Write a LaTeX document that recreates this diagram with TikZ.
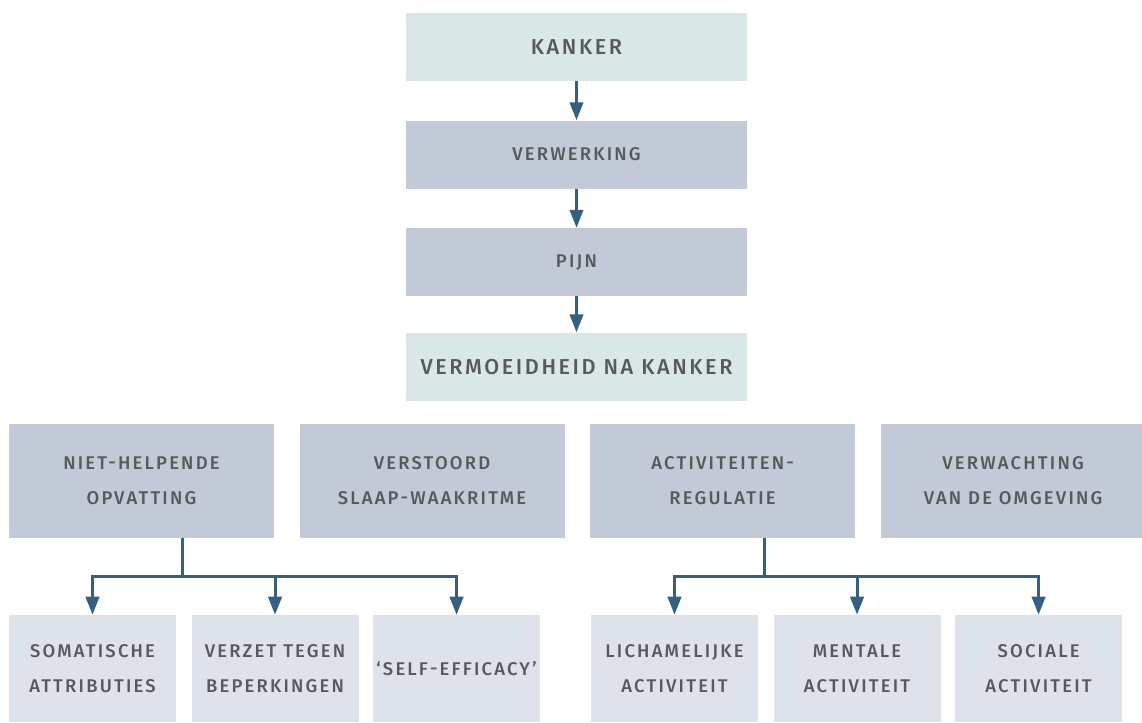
\documentclass[tikz,border=0pt]{standalone}
\usepackage{fontspec}
\setmainfont{Fira Sans Medium}[LetterSpace=12, RawFeature=+case]
\usetikzlibrary{arrows.meta,positioning}
\definecolor{mint}{HTML}{D9E8E7}
\definecolor{slate}{HTML}{C2C9D7}
\definecolor{mist}{HTML}{DEE2EA}
\definecolor{navy}{HTML}{36607F}
\definecolor{ink}{HTML}{58595B}

\begin{document}
\begin{tikzpicture}[
  x=0.75pt, y=-0.75pt,
  font=\fontsize{13.8}{26.25}\selectfont, text=ink,
  base/.style={inner sep=0pt, align=center},
  topbox/.style={base, fill=mint, minimum width=255.75pt, minimum height=51pt,
    font=\fontsize{16.2}{20}\selectfont},
  midbox/.style={base, fill=slate, minimum width=255.75pt, minimum height=51pt},
  catbox/.style={base, fill=slate, minimum width=198.75pt, minimum height=85.5pt},
  subbox/.style={base, fill=mist, minimum width=125.25pt, minimum height=80.25pt},
  tree/.style={draw=navy, line width=2.25pt},
  flow/.style={tree, -{Triangle[length=13.5pt, width=10pt]}},
]
  \useasboundingbox (0,0) rectangle (1142,722);

  % main column
  \node[topbox] (kanker) at (576.5,47) {KANKER};
  \node[midbox, below=29.25pt of kanker] (verwerking) {VERWERKING};
  \node[midbox, below=29.25pt of verwerking] (pijn) {PIJN};
  \node[topbox, below=27pt of pijn] (vermoeid) {VERMOEIDHEID NA KANKER};
  \draw[flow] (kanker) -- (verwerking);
  \draw[flow] (verwerking) -- (pijn);
  \draw[flow] (pijn) -- (vermoeid);

  % factors
  \node[catbox] (opvatting) at (141.5,481) {NIET-HELPENDE\\OPVATTING};
  \node[catbox, right=18.75pt of opvatting] (slaap) {VERSTOORD\\SLAAP-WAAKRITME};
  \node[catbox, right=18.75pt of slaap] (regulatie) {ACTIVITEITEN-\\REGULATIE};
  \node[catbox, right=18.75pt of regulatie] (omgeving) {VERWACHTING\\VAN DE OMGEVING};

  % sub factors
  \node[subbox] (somatisch) at (92.5,668.5) {SOMATISCHE\\ATTRIBUTIES};
  \node[subbox, right=11.25pt of somatisch] (verzet) {VERZET TEGEN\\BEPERKINGEN};
  \node[subbox, right=10.5pt of verzet] (efficacy) {‘SELF-EFFICACY’};
  \node[subbox] (lichamelijk) at (674.5,668.5) {LICHAMELIJKE\\ACTIVITEIT};
  \node[subbox, right=11.25pt of lichamelijk] (mentaal) {MENTALE\\ACTIVITEIT};
  \node[subbox, right=10.5pt of mentaal] (sociaal) {SOCIALE\\ACTIVITEIT};

  \coordinate (lsplit) at (182,576);
  \coordinate (rsplit) at (764,576);
  \draw[tree] (lsplit |- opvatting.south) -- (lsplit);
  \draw[flow] (lsplit) -| (somatisch.north);
  \draw[flow] (lsplit) -| (verzet.north);
  \draw[flow] (lsplit) -| (efficacy.north);
  \draw[tree] (rsplit |- regulatie.south) -- (rsplit);
  \draw[flow] (rsplit) -| (lichamelijk.north);
  \draw[flow] (rsplit) -| (mentaal.north);
  \draw[flow] (rsplit) -| (sociaal.north);
\end{tikzpicture}
\end{document}
